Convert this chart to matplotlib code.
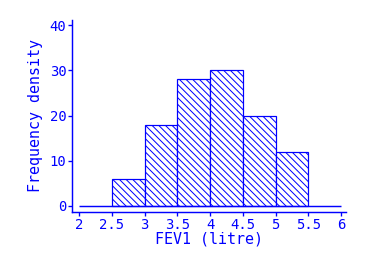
import matplotlib
matplotlib.use("Agg")
import matplotlib.pyplot as plt

# histogram of FEV1
edges = [2.5, 3.0, 3.5, 4.0, 4.5, 5.0]
density = [6, 18, 28, 30, 20, 12]
bin_width = 0.5
xticks = [2, 2.5, 3, 3.5, 4, 4.5, 5, 5.5, 6]
xticklabels = ["2", "2.5", "3", "3.5", "4", "4.5", "5", "5.5", "6"]
yticks = [0, 10, 20, 30, 40]

blue = "#0000ff"
plt.rcParams["font.family"] = "DejaVu Sans Mono"
plt.rcParams["hatch.color"] = blue
plt.rcParams["hatch.linewidth"] = 0.9

dpi = 80
fig = plt.figure(figsize=(384 / dpi, 264 / dpi), dpi=dpi)
ax = fig.add_axes([72 / 384, 52 / 264, 274 / 384, 192 / 264])

ax.bar(edges, density, width=bin_width, align="edge", facecolor="white",
       edgecolor=blue, linewidth=1.1, hatch="\\\\\\\\", zorder=2)
ax.hlines(0, 2, 6, color=blue, linewidth=1.3, zorder=3)

ax.set_xlim(1.893, 6.076)
ax.set_ylim(-1.33, 41.15)
ax.set_xticks(xticks)
ax.set_xticklabels(xticklabels)
ax.set_yticks(yticks)

for s in ["top", "right"]:
    ax.spines[s].set_visible(False)
for s in ["left", "bottom"]:
    ax.spines[s].set_color(blue)
    ax.spines[s].set_linewidth(1.3)

ax.tick_params(colors=blue, labelsize=12.5, length=4, width=1.2, pad=1)
ax.set_xlabel("FEV1 (litre)", color=blue, fontsize=13.5, labelpad=0)
ax.set_ylabel("Frequency density", color=blue, fontsize=13.5, labelpad=6)

fig.savefig("out.png", dpi=dpi)
